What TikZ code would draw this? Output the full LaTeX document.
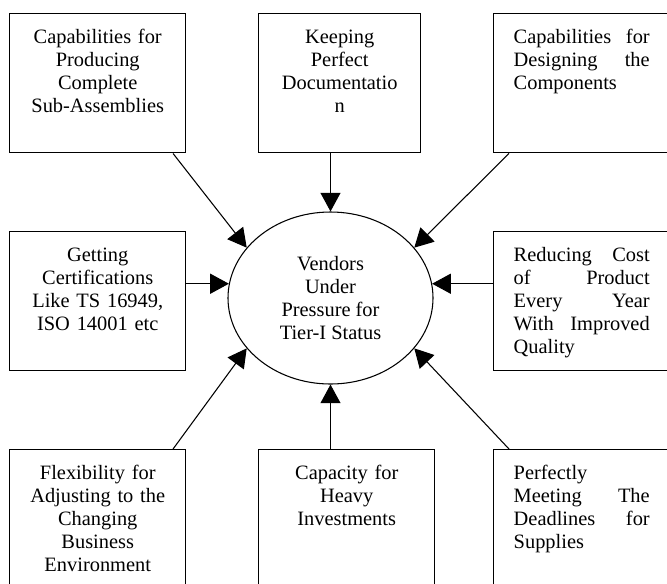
\documentclass[tikz,border=0pt]{standalone}
\usepackage{fontspec}
\setmainfont{Liberation Serif}
\usetikzlibrary{arrows.meta, shapes.geometric}

% two words pushed to both edges of a box line
\newcommand{\spread}[2]{\makebox[102pt][l]{#1\hfill#2}}

\begin{document}
\begin{tikzpicture}[x=0.75pt, y=-0.75pt,
    box/.style={draw, line width=1.1pt, anchor=north west, inner xsep=15pt, inner ysep=0pt,
        text width=102pt, text height=22.4pt, text depth=81.85pt,
        font=\fontsize{15.3}{17.25}\selectfont},
    arr/.style={line width=0.8pt, -{Triangle[length=14pt, width=15pt]}}]
    \useasboundingbox (0,0) rectangle (667,583);
    \clip (0,0) rectangle (667,583);

    % centre
    \node[draw, ellipse, line width=0.8pt, minimum width=153.75pt, minimum height=129pt,
        inner sep=0pt, align=center, font=\fontsize{15.3}{17.25}\selectfont]
        (vendors) at (330.5,298) {Vendors\\Under\\Pressure for\\Tier-I Status};

    % top row
    \node[box, align=center] (tl) at (9,13) {Capabilities for\\Producing\\Complete\\Sub-Assemblies};
    \node[box, align=center, text width=91.5pt] (tm) at (258,13) {Keeping\\Perfect\\Documentatio\\n};
    \node[box, align=left] (tr) at (493,13) {\spread{Capabilities}{for}\\\spread{Designing}{the}\\Components};

    % middle row
    \node[box, align=center] (ml) at (9,231) {Getting\\Certifications\\Like TS 16949,\\ISO 14001 etc};
    \node[box, align=left] (mr) at (493,231) {\spread{Reducing}{Cost}\\\spread{of}{Product}\\\spread{Every}{Year}\\\spread{With}{Improved}\\Quality};

    % bottom row
    \node[box, align=center] (bl) at (9,449) {Flexibility for\\Adjusting to the\\Changing\\Business\\Environment};
    \node[box, align=center] (bm) at (258,449) {Capacity for\\Heavy\\Investments};
    \node[box, align=left] (br) at (493,449) {Perfectly\\\spread{Meeting}{The}\\\spread{Deadlines}{for}\\Supplies};

    % arrows into the centre
    \draw[arr] (tl.-43) -- (vendors.149);
    \draw[arr] (vendors.north |- tm.south) -- (vendors.north);
    \draw[arr] (tr.-136) -- (vendors.31);
    \draw[arr] (ml.east |- vendors.172) -- (vendors.172);
    \draw[arr] (mr.west |- vendors.8) -- (vendors.8);
    \draw[arr] (bl.43) -- (vendors.211);
    \draw[arr] (vendors.south |- bm.north) -- (vendors.south);
    \draw[arr] (br.136) -- (vendors.-31);
\end{tikzpicture}
\end{document}
